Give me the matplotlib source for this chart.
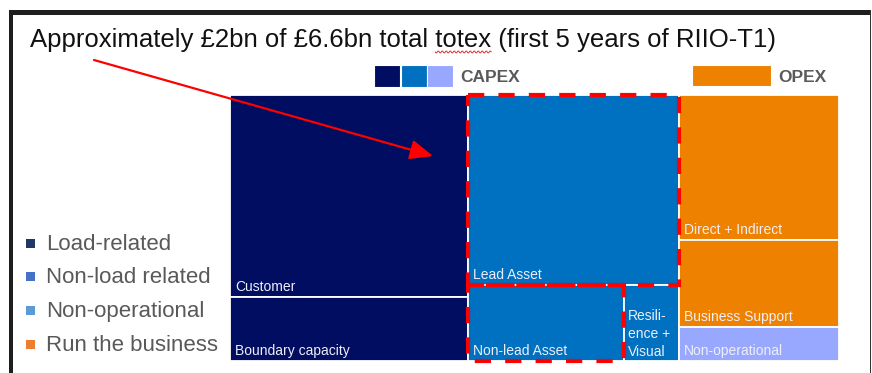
import matplotlib
matplotlib.use('Agg')
import matplotlib.pyplot as plt
from matplotlib.patches import Rectangle
import numpy as np

plt.rcParams['font.family'] = ['Liberation Sans', 'DejaVu Sans']

W, H = 872, 373

title = "Approximately £2bn of £6.6bn total totex (first 5 years of RIIO-T1)"

# ---- data (£bn) ----
load_items = ["Customer", "Boundary capacity"]
load_values = [1.96, 0.62]
nonload_top_items = ["Lead Asset"]
nonload_top_values = [1.64]
nonload_bottom_items = ["Non-lead Asset", "Resili-\nence +\nVisual"]
nonload_bottom_values = [0.48, 0.17]
opex_items = ["Direct + Indirect", "Business Support", "Non-operational"]
opex_values = [0.94, 0.57, 0.22]
highlighted = ["Lead Asset", "Non-lead Asset"]

legend_labels = ["Load-related", "Non-load related", "Non-operational", "Run the business"]
legend_colors = ["#203864", "#4472C4", "#5B9BD5", "#ED7D31"]

navy, blue, lilac, orange = "#000D60", "#0070C0", "#99A8FF", "#EE8100"
capex_colors = [navy, blue, lilac]
opex_item_colors = [orange, orange, lilac]

fig = plt.figure(figsize=(W / 100, H / 100), dpi=100)
fig.patch.set_facecolor('white')

# ---- treemap axes ----
tx0, tx1, ty0, ty1 = 230, 839, 95, 361
ax = fig.add_axes([tx0 / W, 1 - ty1 / H, (tx1 - tx0) / W, (ty1 - ty0) / H])
total = sum(load_values) + sum(nonload_top_values) + sum(nonload_bottom_values) + sum(opex_values)
ax.set_xlim(0, total)
ax.set_ylim(1, 0)
ax.axis('off')

label_color = '#EEEEF8'
rects = {}


def draw_rect(name, x, y, w, h, color, multiline=False):
    ax.add_patch(Rectangle((x, y), w, h, facecolor=color, edgecolor='white', lw=1.3))
    rects[name] = (x, y, w, h)
    if multiline:
        ax.annotate(name, xy=(x, y), xytext=(4, -24), textcoords='offset pixels',
                    color=label_color, fontsize=10, va='top', ha='left', linespacing=1.32,
                    annotation_clip=False)
    else:
        ax.annotate(name, xy=(x, y + h), xytext=(5, 6), textcoords='offset pixels',
                    color=label_color, fontsize=10, va='baseline', ha='left',
                    annotation_clip=False)


# column 1: load related
cx = 0.0
cw = sum(load_values)
cy = 0.0
for name, v in zip(load_items, load_values):
    h = v / cw
    draw_rect(name, cx, cy, cw, h, navy)
    cy += h
cx += cw

# column 2: non-load related
cw = sum(nonload_top_values) + sum(nonload_bottom_values)
cy = 0.0
for name, v in zip(nonload_top_items, nonload_top_values):
    h = v / cw
    draw_rect(name, cx, cy, cw, h, blue)
    cy += h
rowsum = sum(nonload_bottom_values)
rh = rowsum / cw
rx = cx
for name, v in zip(nonload_bottom_items, nonload_bottom_values):
    w = v / rowsum * cw
    draw_rect(name, rx, cy, w, rh, blue, multiline=('\n' in name))
    rx += w
cx += cw

# column 3: opex + non-operational
cw = sum(opex_values)
cy = 0.0
for name, v, c in zip(opex_items, opex_values, opex_item_colors):
    h = v / cw
    draw_rect(name, cx, cy, cw, h, c)
    cy += h

# red dashed highlight
for name in highlighted:
    x, y, w, h = rects[name]
    ax.add_patch(Rectangle((x, y), w, h, fill=False, edgecolor='#FF0000', lw=3,
                           linestyle=(0, (3.9, 3.4)), zorder=5, clip_on=False))

# ---- overlay axes in pixel coordinates ----
ov = fig.add_axes([0, 0, 1, 1], zorder=10)
ov.set_xlim(0, W)
ov.set_ylim(H, 0)
ov.axis('off')
ov.patch.set_alpha(0)

# frame
frame_c = '#1E1E1E'
ov.add_patch(Rectangle((9, 10), 4, H - 10, facecolor=frame_c, edgecolor='none'))
ov.add_patch(Rectangle((9, 10), 862, 5, facecolor=frame_c, edgecolor='none'))
ov.add_patch(Rectangle((869.5, 10), 1.8, H - 10, facecolor='#333333', edgecolor='none'))

# title
ov.text(30, 47, title, fontsize=18.5, color='#111111', va='baseline', ha='left')

# wavy underline under "totex"
fig.canvas.draw()
r = fig.canvas.get_renderer()
pre = title[:title.index('totex') + 5]
t1 = ov.text(30, 47, pre, fontsize=18.5, va='baseline', ha='left')
t2 = ov.text(30, 47, 'totex', fontsize=18.5, va='baseline', ha='left')
e = t1.get_window_extent(r).x1
s = e - t2.get_window_extent(r).width
t1.remove(); t2.remove()
wx = np.linspace(s, e, 120)
ov.plot(wx, 52 + 1.0 * np.sin((wx - s) / 2.0 * np.pi), color='#E03030', lw=0.7)

# CAPEX / OPEX header legend
sw = 26
for i, c in enumerate(capex_colors):
    ov.add_patch(Rectangle((374 + i * (sw + 0.5), 65), sw, 22, facecolor=c, edgecolor='white', lw=0.8))
ov.text(460, 82, 'CAPEX', fontsize=12.5, fontweight='bold', color='#5A5A5A', va='baseline')
ov.add_patch(Rectangle((692, 65), 79, 21, facecolor=orange, edgecolor='white', lw=0.8))
ov.text(778, 82, 'OPEX', fontsize=12.5, fontweight='bold', color='#5A5A5A', va='baseline')

# left legend
for i, (lab, c) in enumerate(zip(legend_labels, legend_colors)):
    yc = 243 + i * 33.8
    ov.add_patch(Rectangle((26, yc - 4.5), 9, 9, facecolor=c, edgecolor='none'))
    ov.text(46, yc + 1, lab, fontsize=16, color='#595959', va='center', ha='left')

# arrow
ov.annotate('', xy=(433, 156), xytext=(94, 60),
            arrowprops=dict(arrowstyle='-|>,head_length=0.7,head_width=0.3', color='#FF0000',
                            lw=1.6, mutation_scale=20, shrinkA=0, shrinkB=0))

fig.savefig('out.png', dpi=100, facecolor='white')
